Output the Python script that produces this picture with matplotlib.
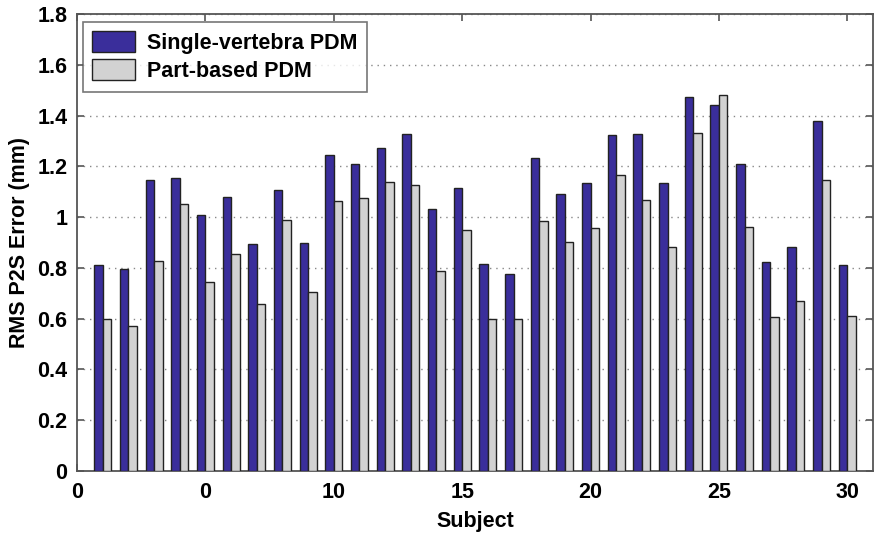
import matplotlib
matplotlib.use("Agg")
import matplotlib.pyplot as plt
import numpy as np

subjects = list(range(1, 31))
single_vertebra = [0.81, 0.795, 1.145, 1.155, 1.007, 1.08, 0.894, 1.108, 0.899, 1.245,
                   1.21, 1.272, 1.328, 1.031, 1.114, 0.815, 0.776, 1.232, 1.09, 1.136,
                   1.322, 1.328, 1.136, 1.474, 1.44, 1.208, 0.824, 0.882, 1.378, 0.81]
part_based = [0.60, 0.571, 0.827, 1.052, 0.746, 0.855, 0.657, 0.989, 0.706, 1.064,
              1.075, 1.137, 1.126, 0.788, 0.95, 0.60, 0.60, 0.984, 0.90, 0.957,
              1.164, 1.068, 0.883, 1.333, 1.48, 0.962, 0.605, 0.668, 1.148, 0.611]
xtick_vals = [0, 5, 10, 15, 20, 25, 30]
xtick_labels = ["0", "0", "10", "15", "20", "25", "30"]
ytick_vals = [0, 0.2, 0.4, 0.6, 0.8, 1.0, 1.2, 1.4, 1.6, 1.8]
ytick_labels = ["0", "0.2", "0.4", "0.6", "0.8", "1", "1.2", "1.4", "1.6", "1.8"]

plt.rcParams['font.family'] = ['Liberation Sans', 'DejaVu Sans']
plt.rcParams['font.weight'] = 'bold'

FS = 15.5

fig = plt.figure(figsize=(8.75, 5.35), dpi=100)
ax = fig.add_axes([77/875, 1 - 471/535, (873 - 77)/875, (471 - 14)/535])

x = np.array(subjects, dtype=float)
w = 0.33
edge = '#222222'
ax.bar(x - w/2, single_vertebra, width=w, color='#3a2e9b', edgecolor=edge,
       linewidth=1.0, label='Single-vertebra PDM', zorder=3)
ax.bar(x + w/2, part_based, width=w, color='#d2d2d2', edgecolor=edge,
       linewidth=1.0, label='Part-based PDM', zorder=3)

ax.set_xlim(0, 31)
ax.set_ylim(0, 1.8)
ax.set_xticks(xtick_vals)
ax.set_xticklabels(xtick_labels)
ax.set_yticks(ytick_vals)
ax.set_yticklabels(ytick_labels)
ax.tick_params(direction='in', length=5, width=1.2, top=True, right=True,
               labelsize=FS, colors='#555555', labelcolor='black')
ax.tick_params(axis='y', pad=7)
ax.tick_params(axis='x', pad=8)
for lab in ax.get_xticklabels() + ax.get_yticklabels():
    lab.set_fontweight('bold')

ax.yaxis.grid(True, linestyle=(0, (1, 3.5)), color='#888888', linewidth=1.0, zorder=0)
ax.set_axisbelow(True)
for s in ax.spines.values():
    s.set_color('#555555')
    s.set_linewidth(1.3)

ax.set_ylabel('RMS P2S Error (mm)', fontsize=FS, fontweight='bold', labelpad=5)
ax.set_xlabel('Subject', fontsize=FS, fontweight='bold', labelpad=6)

leg = ax.legend(loc='upper left', bbox_to_anchor=(0.007, 0.983), fontsize=FS,
                frameon=True, fancybox=False, edgecolor='#555555',
                handlelength=2.0, handleheight=1.1, borderpad=0.45,
                labelspacing=0.25, handletextpad=0.55, borderaxespad=0)
leg.get_frame().set_linewidth(1.2)
for t in leg.get_texts():
    t.set_fontweight('bold')

fig.savefig('out.png', dpi=100)
